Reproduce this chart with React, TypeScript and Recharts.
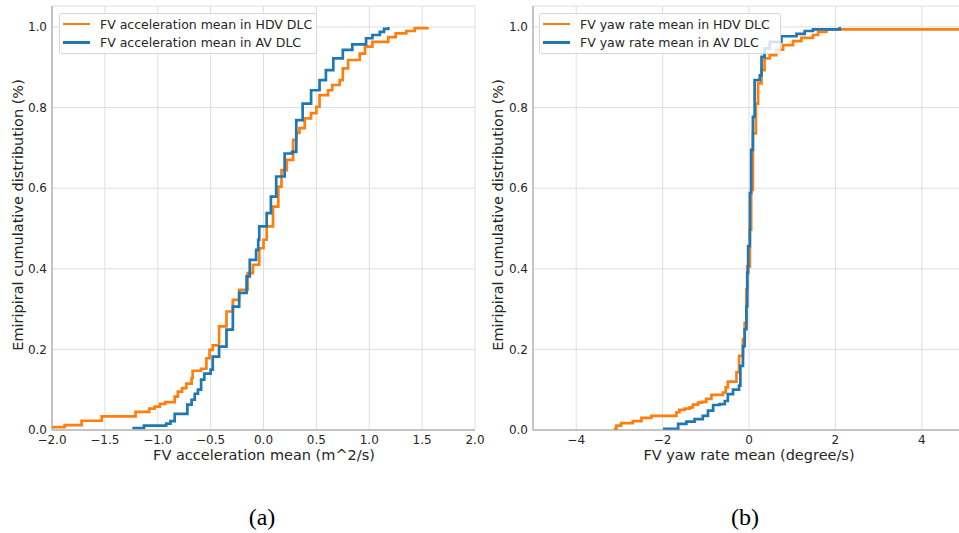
import { LineChart, Line, XAxis, YAxis, CartesianGrid, Legend } from 'recharts';

const accHdvX = [-2.05, -1.88, -1.72, -1.53, -1.21, -1.08, -1.03, -0.98, -0.93, -0.84, -0.81, -0.77, -0.73, -0.68, -0.67, -0.59, -0.54, -0.51, -0.48, -0.42, -0.35, -0.29, -0.23, -0.15, -0.1, -0.04, 0.0, 0.03, 0.09, 0.14, 0.17, 0.22, 0.28, 0.31, 0.34, 0.39, 0.45, 0.5, 0.53, 0.61, 0.65, 0.72, 0.75, 0.8, 0.91, 0.96, 1.03, 1.18, 1.25, 1.35, 1.43, 1.55];
const accHdvY = [0.007, 0.012, 0.023, 0.034, 0.045, 0.053, 0.058, 0.065, 0.069, 0.083, 0.095, 0.104, 0.115, 0.129, 0.147, 0.152, 0.178, 0.199, 0.21, 0.257, 0.294, 0.323, 0.348, 0.389, 0.41, 0.451, 0.472, 0.505, 0.554, 0.604, 0.645, 0.67, 0.72, 0.737, 0.749, 0.773, 0.786, 0.802, 0.831, 0.843, 0.856, 0.868, 0.897, 0.918, 0.934, 0.951, 0.963, 0.975, 0.984, 0.99, 0.997, 1.0];

const accAvX = [-1.24, -1.13, -0.92, -0.88, -0.84, -0.72, -0.68, -0.65, -0.62, -0.59, -0.56, -0.5, -0.48, -0.42, -0.35, -0.29, -0.23, -0.16, -0.13, -0.07, -0.05, -0.04, 0.03, 0.07, 0.12, 0.2, 0.27, 0.31, 0.37, 0.45, 0.53, 0.59, 0.66, 0.75, 0.84, 0.97, 1.03, 1.1, 1.14, 1.18];
const accAvY = [0.005, 0.011, 0.016, 0.022, 0.04, 0.063, 0.075, 0.09, 0.1, 0.125, 0.14, 0.15, 0.182, 0.207, 0.249, 0.306, 0.34, 0.381, 0.422, 0.447, 0.472, 0.505, 0.538, 0.579, 0.629, 0.686, 0.69, 0.769, 0.81, 0.843, 0.868, 0.893, 0.922, 0.943, 0.957, 0.972, 0.98, 0.988, 0.995, 1.0];

const yawHdvX = [-3.13, -3.07, -2.96, -2.69, -2.49, -2.26, -1.68, -1.61, -1.49, -1.37, -1.3, -1.18, -1.1, -0.99, -0.87, -0.6, -0.54, -0.49, -0.29, -0.23, -0.14, -0.1, -0.06, -0.04, 0.02, 0.05, 0.09, 0.16, 0.21, 0.29, 0.36, 0.48, 0.63, 0.79, 1.02, 1.21, 1.48, 1.6, 1.79, 6.0];
const yawHdvY = [0.003, 0.011, 0.017, 0.022, 0.03, 0.035, 0.044, 0.05, 0.053, 0.056, 0.063, 0.068, 0.07, 0.077, 0.087, 0.093, 0.106, 0.12, 0.143, 0.184, 0.225, 0.266, 0.349, 0.406, 0.497, 0.596, 0.736, 0.81, 0.86, 0.893, 0.922, 0.93, 0.944, 0.955, 0.965, 0.973, 0.98, 0.988, 0.994, 1.0];

const yawAvX = [-1.99, -1.64, -1.45, -1.26, -1.07, -0.95, -0.83, -0.68, -0.56, -0.49, -0.37, -0.23, -0.2, -0.14, -0.1, -0.06, -0.04, -0.02, 0.02, 0.05, 0.09, 0.13, 0.25, 0.29, 0.36, 0.48, 0.75, 1.1, 1.29, 1.48, 2.1];
const yawAvY = [0.003, 0.015, 0.021, 0.027, 0.035, 0.048, 0.062, 0.064, 0.072, 0.089, 0.1, 0.11, 0.159, 0.208, 0.25, 0.307, 0.39, 0.456, 0.588, 0.695, 0.777, 0.868, 0.88, 0.926, 0.947, 0.963, 0.977, 0.983, 0.99, 0.994, 1.0];

const accTicks = [-2, -1.5, -1, -0.5, 0, 0.5, 1, 1.5, 2];
const yawTicks = [-4, -2, 0, 2, 4];
const cdfTicks = [0, 0.2, 0.4, 0.6, 0.8, 1.0];

const ORANGE = '#ff7f0e';
const BLUE = '#1f77b4';
const FONT = '"DejaVu Sans", sans-serif';
const TEXT = '#262626';

const toPoints = (xs: number[], ys: number[]) => xs.map((x, i) => ({ x, y: ys[i] }));

const minus = (s: string) => s.replace('-', '\u2212');
const fmt1 = (v: number) => minus(v.toFixed(1));
const fmt0 = (v: number) => minus(v.toFixed(0));

type Series = { name: string; color: string; data: { x: number; y: number }[] };

function LegendBox({ items, width }: { items: Series[]; width: number }) {
  return (
    <div
      style={{
        width,
        height: 41,
        boxSizing: 'border-box',
        background: 'rgba(255,255,255,0.8)',
        border: '1px solid #d6d6d6',
        borderRadius: 3,
        paddingTop: 1,
        fontFamily: FONT,
        fontSize: 12.5,
        color: TEXT,
      }}
    >
      {items.map((s) => (
        <div key={s.name} style={{ display: 'flex', alignItems: 'center', height: 18.3 }}>
          <span style={{ display: 'inline-block', width: 27, height: 2.7, marginLeft: 3, background: s.color }} />
          <span style={{ marginLeft: 10, whiteSpace: 'nowrap' }}>{s.name}</span>
        </div>
      ))}
    </div>
  );
}

function Panel(props: {
  left: number;
  width: number;
  rightMargin: number;
  yAxisWidth: number;
  domain: [number, number];
  ticks: number[];
  fmt: (v: number) => string;
  xTitle: string;
  xTitleX: number;
  series: Series[];
  legendWidth: number;
}) {
  const { left, width, rightMargin, yAxisWidth, domain, ticks, fmt, xTitle, xTitleX, series, legendWidth } = props;
  return (
    <div style={{ position: 'absolute', left, top: 0 }}>
      <LineChart width={width} height={470} margin={{ top: 6, right: rightMargin, left: 0, bottom: 0 }}>
        <CartesianGrid stroke="#dedede" strokeWidth={1} />
        <XAxis
          type="number"
          dataKey="x"
          domain={domain}
          ticks={ticks}
          allowDataOverflow
          tickFormatter={fmt}
          height={40}
          stroke="#9a9a9a"
          tickLine={false}
          tickSize={0}
          tickMargin={5}
          tick={{ fill: TEXT, fontSize: 12, fontFamily: FONT }}
          label={{
            content: () => (
              <text x={xTitleX} y={455} textAnchor="middle" dominantBaseline="central" fill={TEXT} fontSize={14.5} fontFamily={FONT}>
                {xTitle}
              </text>
            ),
          }}
        />
        <YAxis
          type="number"
          domain={[0, 1.052]}
          ticks={cdfTicks}
          allowDataOverflow
          tickFormatter={fmt1}
          width={yAxisWidth}
          stroke="#9a9a9a"
          tickLine={false}
          tickSize={0}
          tickMargin={5}
          tick={{ fill: TEXT, fontSize: 12, fontFamily: FONT }}
          label={{
            content: () => (
              <text
                x={18}
                y={215}
                transform="rotate(-90 18 215)"
                textAnchor="middle"
                dominantBaseline="central"
                fill={TEXT}
                fontSize={14.5}
                fontFamily={FONT}
              >
                Emiripiral cumulative distribution (%)
              </text>
            ),
          }}
        />
        <Legend
          layout="vertical"
          align="center"
          verticalAlign="middle"
          wrapperStyle={{ left: 59, top: 13, width: legendWidth }}
          content={() => <LegendBox items={series} width={legendWidth} />}
        />
        {series.map((s) => (
          <Line
            key={s.name}
            data={s.data}
            dataKey="y"
            name={s.name}
            type="stepAfter"
            stroke={s.color}
            strokeWidth={2.7}
            dot={false}
            activeDot={false}
            isAnimationActive={false}
          />
        ))}
      </LineChart>
    </div>
  );
}

export default function App() {
  const accSeries: Series[] = [
    { name: 'FV acceleration mean in HDV DLC', color: ORANGE, data: toPoints(accHdvX, accHdvY) },
    { name: 'FV acceleration mean in AV DLC', color: BLUE, data: toPoints(accAvX, accAvY) },
  ];
  const yawSeries: Series[] = [
    { name: 'FV yaw rate mean in HDV DLC', color: ORANGE, data: toPoints(yawHdvX, yawHdvY) },
    { name: 'FV yaw rate mean in AV DLC', color: BLUE, data: toPoints(yawAvX, yawAvY) },
  ];
  return (
    <div style={{ position: 'absolute', left: 0, top: 0, width: 959, height: 533, overflow: 'hidden', background: '#fff' }}>
      <Panel
        left={0}
        width={490}
        rightMargin={15}
        yAxisWidth={52}
        domain={[-2, 2]}
        ticks={accTicks}
        fmt={fmt1}
        xTitle="FV acceleration mean (m^2/s)"
        xTitleX={264}
        series={accSeries}
        legendWidth={258}
      />
      <Panel
        left={480}
        width={490}
        rightMargin={5}
        yAxisWidth={53}
        domain={[-5, 5]}
        ticks={yawTicks}
        fmt={fmt0}
        xTitle="FV yaw rate mean (degree/s)"
        xTitleX={269}
        series={yawSeries}
        legendWidth={242}
      />
      <div style={{ position: 'absolute', left: 0, width: 524, top: 502, textAlign: 'center', fontFamily: '"Liberation Serif", serif', fontSize: 24, lineHeight: '30px', color: '#000' }}>
        (a)
      </div>
      <div style={{ position: 'absolute', left: 480, width: 530, top: 502, textAlign: 'center', fontFamily: '"Liberation Serif", serif', fontSize: 24, lineHeight: '30px', color: '#000' }}>
        (b)
      </div>
    </div>
  );
}
